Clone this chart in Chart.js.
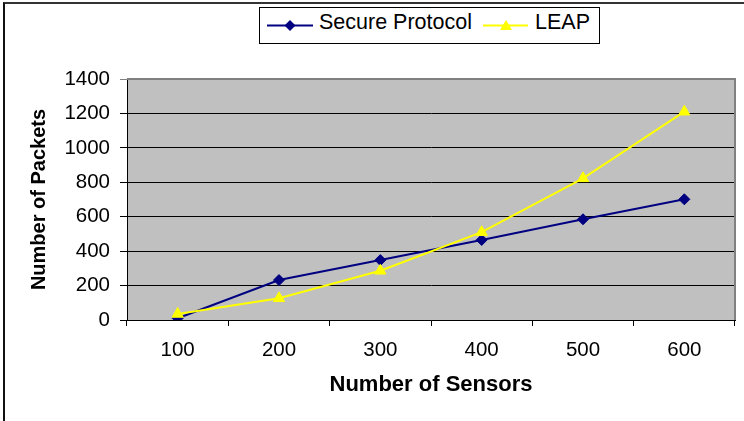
<!DOCTYPE html>
<html>
<head>
<meta charset="utf-8">
<script src="https://cdn.jsdelivr.net/npm/chart.js@4/dist/chart.umd.min.js"></script>
<style>
  html, body { margin: 0; padding: 0; background: #fff; }
  #wrap { position: relative; width: 744px; height: 421px; overflow: hidden; font-family: "Liberation Sans", Arial, sans-serif; }
  #frame { position: absolute; left: 3px; top: 2px; right: 0; bottom: 0; border-top: 2px solid #333; border-left: 2px solid #111; pointer-events: none; }
  #legend { position: absolute; left: 259px; top: 7px; width: 341px; height: 37px; box-sizing: border-box; border: 1px solid #000; background: #fff; }
  #legend span { position: absolute; top: 2px; line-height: 24px; font-size: 21.5px; color: #000; white-space: nowrap; }
  #legend svg { position: absolute; left: 0; top: 0; }
</style>
</head>
<body>
<div id="wrap">
  <canvas id="c" width="744" height="421"></canvas>
  <div id="frame"></div>
  <div id="legend">
    <svg width="339" height="35">
      <line x1="7" y1="17.5" x2="53" y2="17.5" stroke="#000080" stroke-width="2"/>
      <polygon points="30,12 35.5,17.5 30,23 24.5,17.5" fill="#000080"/>
      <line x1="223" y1="17.5" x2="268" y2="17.5" stroke="#FFFF00" stroke-width="2"/>
      <polygon points="246,12 252,22 240,22" fill="#FFFF00"/>
    </svg>
    <span id="l1" style="left:59px">Secure Protocol</span>
    <span id="l2" style="left:275px">LEAP</span>
  </div>
</div>
<script>
const categories = ['100', '200', '300', '400', '500', '600'];
const seriesNames = ['Secure Protocol', 'LEAP'];
const secureValues = [10, 232, 348, 465, 585, 701];
const leapValues = [35, 126, 286, 510, 823, 1210];
const yTicks = [0, 200, 400, 600, 800, 1000, 1200, 1400];
const xTitle = 'Number of Sensors';
const yTitle = 'Number of Packets';

const FONT = '"Liberation Sans", Arial, sans-serif';

const plotBg = {
  id: 'plotBg',
  beforeDraw(chart) {
    const a = chart.chartArea, ctx = chart.ctx;
    ctx.save();
    ctx.fillStyle = '#C0C0C0';
    ctx.fillRect(a.left, a.top, a.right - a.left, a.bottom - a.top);
    ctx.restore();
  },
  afterDraw(chart) {
    const a = chart.chartArea, ctx = chart.ctx;
    ctx.save();
    ctx.strokeStyle = '#808080';
    ctx.lineWidth = 2;
    ctx.beginPath();
    ctx.moveTo(a.left, a.top);
    ctx.lineTo(a.right, a.top);
    ctx.lineTo(a.right, a.bottom);
    ctx.stroke();
    ctx.restore();
  }
};

new Chart(document.getElementById('c'), {
  type: 'line',
  data: {
    labels: categories,
    datasets: [
      {
        label: seriesNames[0],
        data: secureValues,
        borderColor: '#000080',
        backgroundColor: '#000080',
        borderWidth: 2,
        pointStyle: 'rectRot',
        pointRadius: 5.5,
        pointBorderWidth: 1,
        pointBackgroundColor: '#000080',
        pointBorderColor: '#000080',
        tension: 0,
        order: 2
      },
      {
        label: seriesNames[1],
        data: leapValues,
        borderColor: '#FFFF00',
        backgroundColor: '#FFFF00',
        borderWidth: 2,
        pointStyle: 'triangle',
        pointRadius: 6.5,
        pointBorderWidth: 1,
        pointBackgroundColor: '#FFFF00',
        pointBorderColor: '#FFFF00',
        tension: 0,
        order: 1
      }
    ]
  },
  options: {
    responsive: false,
    animation: false,
    devicePixelRatio: 1,
    layout: { padding: { top: 79, right: 9, bottom: 0, left: 0 } },
    plugins: { legend: { display: false }, tooltip: { enabled: false } },
    scales: {
      x: {
        offset: true,
        grid: { display: true, offset: true, drawOnChartArea: false, drawTicks: true, tickLength: 6, color: '#000' },
        border: { display: true, color: '#000', width: 1 },
        ticks: { color: '#000', padding: 12, font: { family: FONT, size: 20.5 }, maxRotation: 0 },
        title: { display: true, text: xTitle, color: '#000', font: { family: FONT, size: 22, weight: 'bold' }, padding: { top: 0, bottom: 23 } },
        afterFit(scale) { scale.height = 101; }
      },
      y: {
        min: 0,
        max: 1400,
        afterBuildTicks(scale) { scale.ticks = yTicks.map(v => ({ value: v })); },
        grid: {
          color: ctx => (ctx.tick && ctx.tick.value === 1400) ? '#808080' : '#000',
          lineWidth: 1,
          tickLength: 7,
          drawTicks: true
        },
        border: { display: true, color: '#000', width: 1 },
        ticks: { color: '#000', padding: 10, font: { family: FONT, size: 20.5 }, callback: v => String(v) },
        title: { display: true, text: yTitle, color: '#000', font: { family: FONT, size: 20, weight: 'bold' }, padding: { top: 27, bottom: 0 } },
        afterFit(scale) { scale.width = 127; }
      }
    }
  },
  plugins: [plotBg]
});
</script>
</body>
</html>
